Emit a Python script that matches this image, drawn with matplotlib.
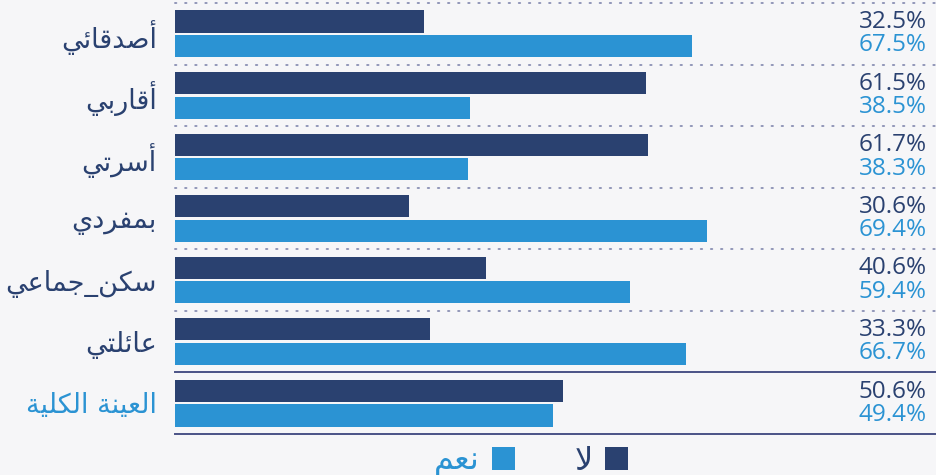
import matplotlib
matplotlib.use("Agg")
import matplotlib.pyplot as plt
from matplotlib.patches import Patch

# ---- data -------------------------------------------------------------
categories = ["أصدقائي", "أقاربي", "أسرتي", "بمفردي", "سكن_جماعي", "عائلتي", "العينة الكلية"]
no_values = [32.5, 61.5, 61.7, 30.6, 40.6, 33.3, 50.6]
yes_values = [67.5, 38.5, 38.3, 69.4, 59.4, 66.7, 49.4]
series_names = ["لا", "نعم"]

DARK = "#2a4170"
BLUE = "#2b93d3"
BG = "#f6f6f8"

# ---- minimal Arabic shaping (presentation forms + visual order) -------
DUAL = {
    "ب": (0xFE8F, 0xFE90, 0xFE91, 0xFE92), "ت": (0xFE95, 0xFE96, 0xFE97, 0xFE98),
    "ج": (0xFE9D, 0xFE9E, 0xFE9F, 0xFEA0), "س": (0xFEB1, 0xFEB2, 0xFEB3, 0xFEB4),
    "ص": (0xFEB9, 0xFEBA, 0xFEBB, 0xFEBC), "ع": (0xFEC9, 0xFECA, 0xFECB, 0xFECC),
    "ف": (0xFED1, 0xFED2, 0xFED3, 0xFED4), "ق": (0xFED5, 0xFED6, 0xFED7, 0xFED8),
    "ك": (0xFED9, 0xFEDA, 0xFEDB, 0xFEDC), "ل": (0xFEDD, 0xFEDE, 0xFEDF, 0xFEE0),
    "م": (0xFEE1, 0xFEE2, 0xFEE3, 0xFEE4), "ن": (0xFEE5, 0xFEE6, 0xFEE7, 0xFEE8),
    "ه": (0xFEE9, 0xFEEA, 0xFEEB, 0xFEEC), "ي": (0xFEF1, 0xFEF2, 0xFEF3, 0xFEF4),
    "ئ": (0xFE89, 0xFE8A, 0xFE8B, 0xFE8C),
}
RIGHT = {
    "ا": (0xFE8D, 0xFE8E), "أ": (0xFE83, 0xFE84), "د": (0xFEA9, 0xFEAA),
    "ر": (0xFEAD, 0xFEAE), "ة": (0xFE93, 0xFE94), "\uFEFB": (0xFEFB, 0xFEFC),
}


def shape(text):
    text = text.replace("لا", "\uFEFB")
    out = []
    for i, ch in enumerate(text):
        prev = text[i - 1] if i > 0 else ""
        nxt = text[i + 1] if i + 1 < len(text) else ""
        joins_prev = prev in DUAL and (ch in DUAL or ch in RIGHT)
        joins_next = ch in DUAL and (nxt in DUAL or nxt in RIGHT)
        if ch in DUAL:
            iso, fin, ini, med = DUAL[ch]
            code = med if joins_prev and joins_next else fin if joins_prev else ini if joins_next else iso
            out.append(chr(code))
        elif ch in RIGHT:
            iso, fin = RIGHT[ch]
            out.append(chr(fin if joins_prev else iso))
        else:
            out.append(ch)
    return "".join(reversed(out))


# ---- figure -----------------------------------------------------------
W, H = 936, 475
fig = plt.figure(figsize=(W / 100, H / 100), dpi=100, facecolor=BG)
ax = fig.add_axes([175 / W, 1 - 434 / H, 761 / W, 431 / H])
ax.set_facecolor(BG)

n = len(categories)
ys = list(range(n))
bh = 0.36
ax.barh([y - 0.2 for y in ys], no_values, height=bh, color=DARK)
ax.barh([y + 0.2 for y in ys], yes_values, height=bh, color=BLUE)

ax.set_xlim(0, 99.35)
ax.set_ylim(n - 0.5, -0.5)

# group separators
for b in range(n):
    y = b - 0.5
    if b == n - 1:
        ax.axhline(y, color="#4a5286", lw=1.4, clip_on=False)
    else:
        ax.axhline(y, color="#9196b8", lw=1.4, ls=(0, (0.7, 4.5)),
                   dash_capstyle="round", clip_on=False)
ax.axhline(n - 0.5, color="#4a5286", lw=1.4, clip_on=False)

# value labels on the right
for y, a, b in zip(ys, no_values, yes_values):
    ax.text(0.988, y - 0.19, f"{a:.1f}%", transform=ax.get_yaxis_transform(),
            ha="right", va="center", fontsize=17.5, color=DARK, family="Open Sans")
    ax.text(0.988, y + 0.19, f"{b:.1f}%", transform=ax.get_yaxis_transform(),
            ha="right", va="center", fontsize=17.5, color=BLUE, family="Open Sans")

# category labels
ax.set_yticks(ys)
ax.set_yticklabels([shape(c) for c in categories], fontsize=19.5, family="DejaVu Sans")
for i, lbl in enumerate(ax.get_yticklabels()):
    lbl.set_color(BLUE if i == n - 1 else DARK)
ax.tick_params(axis="y", length=0, pad=13)
ax.set_xticks([])
for s in ax.spines.values():
    s.set_visible(False)

# legend (right-to-left: marker to the right of its text)
handles = [Patch(facecolor=BLUE, edgecolor="none"), Patch(facecolor=DARK, edgecolor="none")]
leg = fig.legend(handles, [shape(series_names[1]), shape(series_names[0])],
                 loc="center", bbox_to_anchor=(531 / W, 1 - 461 / H), ncol=2,
                 frameon=False, markerfirst=False, handlelength=0.74, handleheight=0.74,
                 handletextpad=0.38, columnspacing=1.85, borderaxespad=0,
                 prop={"family": "DejaVu Sans", "size": 23})
for t, c in zip(leg.get_texts(), [BLUE, DARK]):
    t.set_color(c)

fig.savefig("out.png", dpi=100, facecolor=BG)
